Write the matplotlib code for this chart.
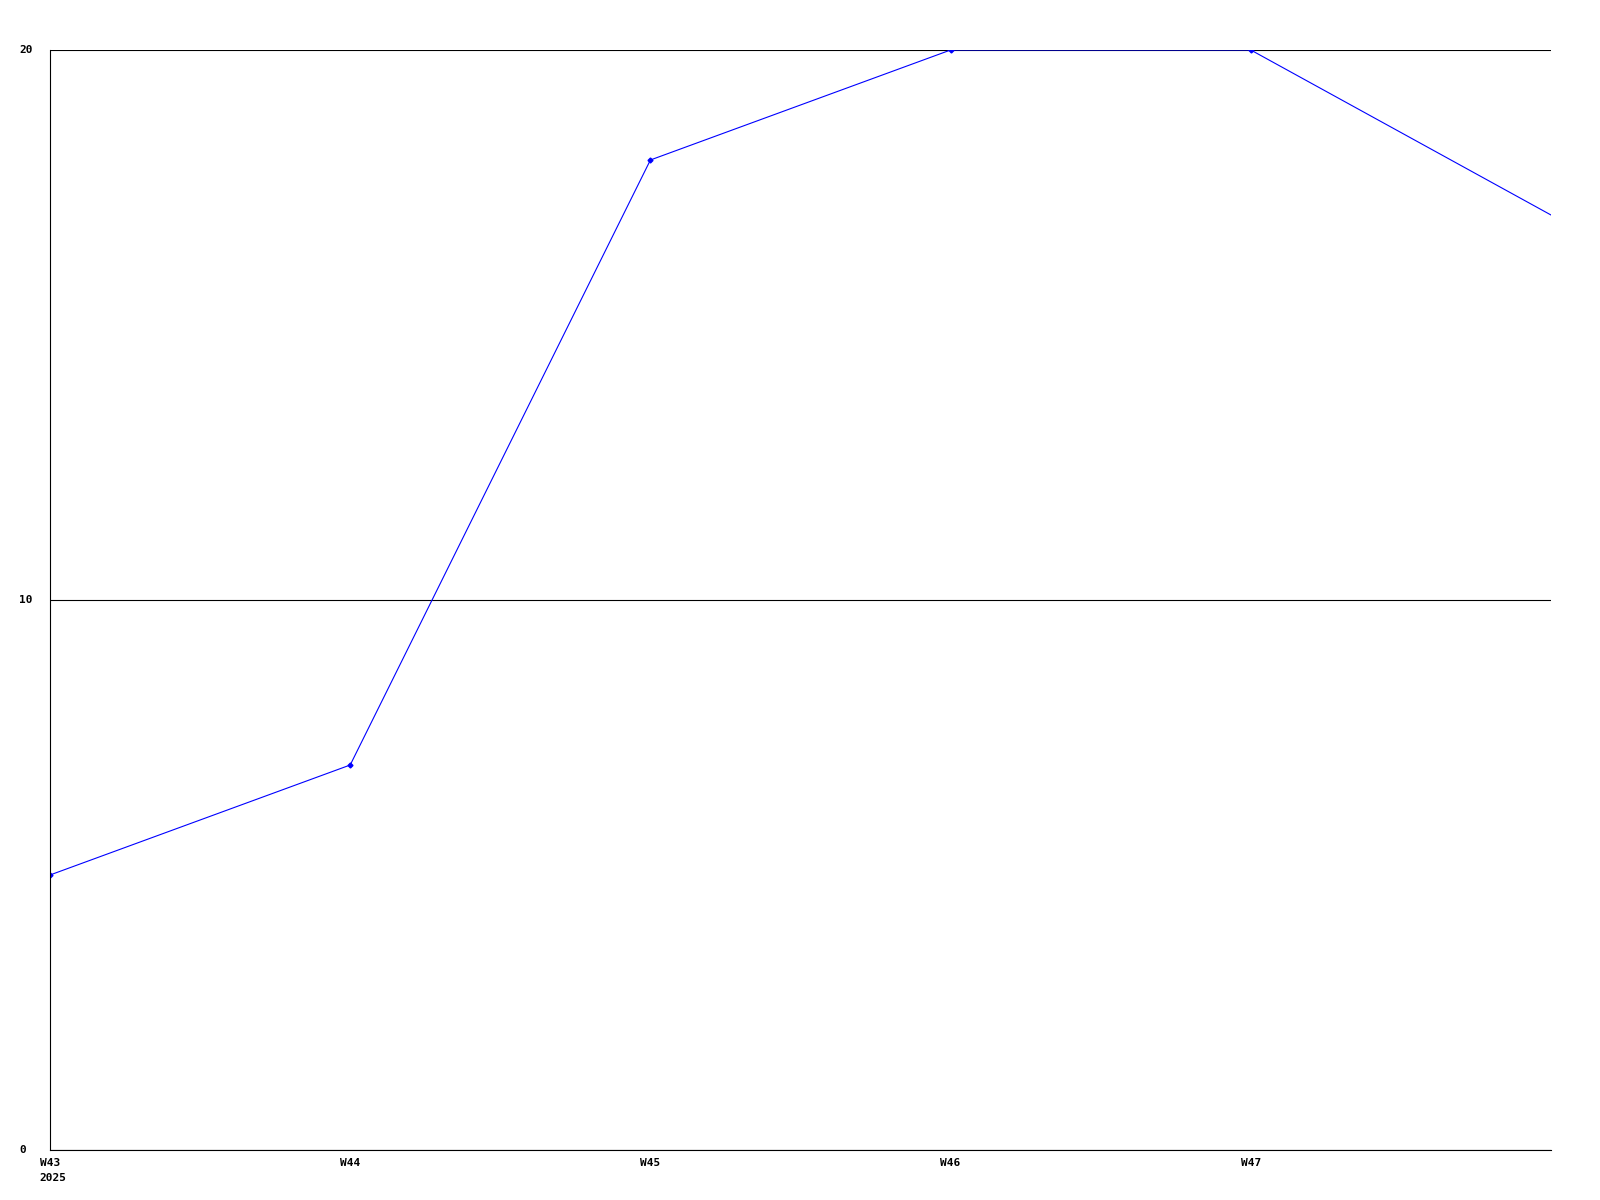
import matplotlib
matplotlib.use('Agg')
import matplotlib.pyplot as plt

weeks = ['W43', 'W44', 'W45', 'W46', 'W47', 'W48']
values = [5, 7, 18, 20, 20, 17]
tick_labels = ['W43', 'W44', 'W45', 'W46', 'W47']
year_label = '2025'
y_ticks = [0, 10, 20]

plt.rcParams['font.family'] = ['DejaVu Sans Mono']
plt.rcParams['font.weight'] = 'bold'
plt.rcParams['font.size'] = 8

fig = plt.figure(figsize=(16, 12), dpi=100)
ax = fig.add_axes([50 / 1600, 50 / 1200, 1501 / 1600, 1100 / 1200])

x = list(range(len(weeks)))
# last point sits on the right edge, no marker there
ax.plot(x, values, color='#0000ff', lw=0.8, marker='D', ms=2.5,
        markevery=slice(0, len(x) - 1))

ax.set_xlim(0, len(weeks) - 1)
ax.set_ylim(0, 20)
ax.set_xticks(x[:len(tick_labels)])
ax.set_xticklabels(tick_labels, ha='center', va='top')
ax.set_yticks(y_ticks)
ax.set_yticklabels([str(v) for v in y_ticks], ha='left', va='center')
ax.tick_params(axis='x', length=0, pad=6)
ax.tick_params(axis='y', length=0, pad=22)
ax.grid(axis='y', color='black', lw=0.8)
for s in ['top', 'right']:
    ax.spines[s].set_visible(False)
for s in ['left', 'bottom']:
    ax.spines[s].set_linewidth(0.8)
ax.set_axisbelow(True)

# year under the first week label, left edge lined up with "W43"
ax.annotate(year_label, xy=(0, 0), xycoords=('data', 'axes fraction'),
            xytext=(-7.3, -16.5), textcoords='offset points',
            ha='left', va='top')

fig.savefig('out.png', dpi=100, facecolor='white')
